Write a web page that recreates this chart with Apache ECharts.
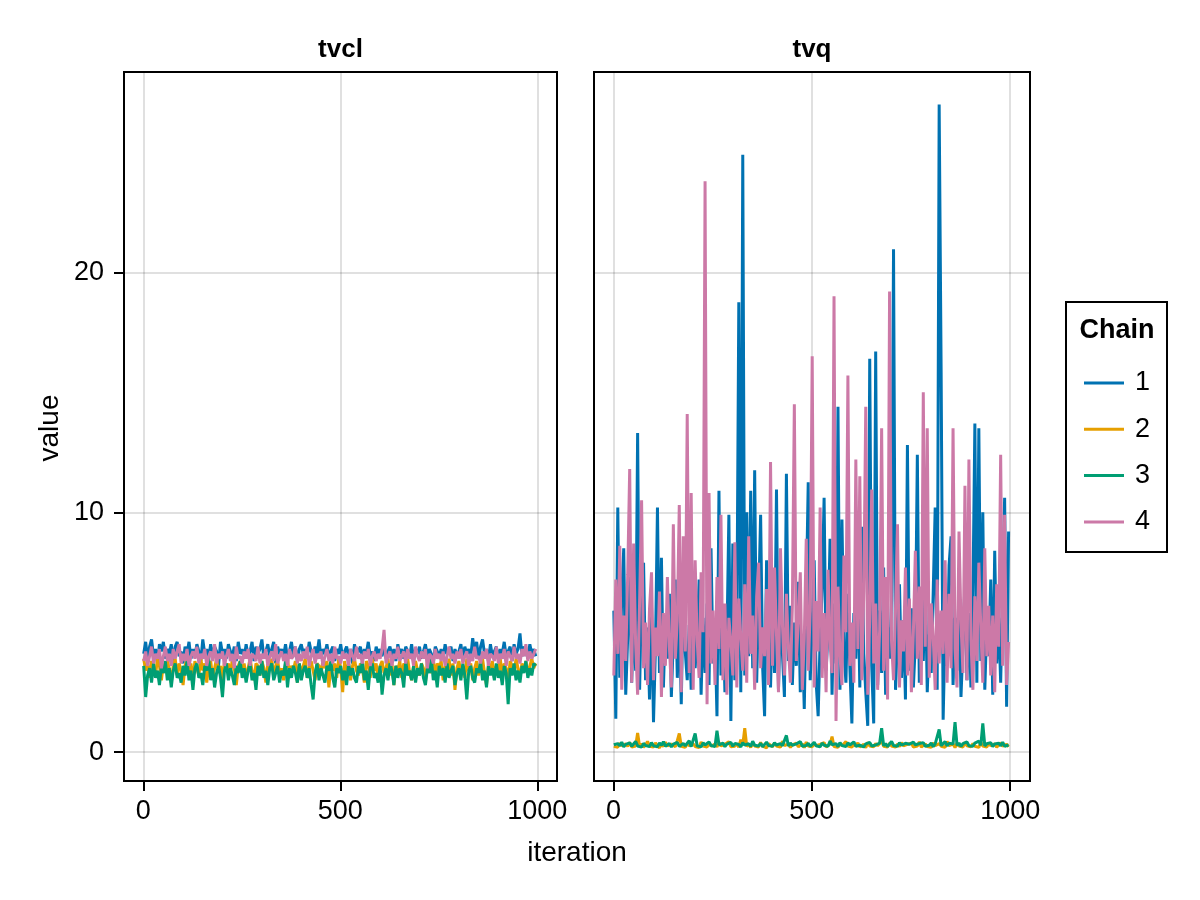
<!DOCTYPE html>
<html>
<head>
<meta charset="utf-8">
<title>trace plot</title>
<script src="https://cdn.jsdelivr.net/npm/echarts@6/dist/echarts.min.js"></script>
<style>
  html, body { margin: 0; padding: 0; background: #fff; }
  #main { width: 1200px; height: 900px; }
</style>
</head>
<body>
<div id="main"></div>
<script>
// thinned trace: one value read every 5 iterations (1, 6, 11, ... 996)
const thinStep = 5;
const iterations = [];
for (let i = 0; i < 200; i++) iterations.push(1 + i * thinStep);

const chainNames = ['1', '2', '3', '4'];
const chainColors = ['#0072b2', '#e69f00', '#009e73', '#cc79a7'];
const panelTitles = ['tvcl', 'tvq'];
const xTicks = [0, 500, 1000];
const yTicks = [0, 10, 20];

// tvcl
const tvclChain1 = [
  4.1, 4.6, 3.9, 4.4, 4.7, 4.0, 4.3, 3.7, 4.5, 4.2, 4.6, 3.9, 4.3, 4.1, 4.5, 3.8, 4.4, 4.6, 4.0, 4.2,
  3.7, 4.4, 4.1, 4.6, 3.9, 4.3, 4.0, 4.5, 4.2, 3.8, 4.7, 4.1, 4.3, 3.9, 4.5, 4.0, 4.4, 4.2, 3.6, 4.6,
  4.1, 4.3, 3.9, 4.5, 4.2, 4.0, 4.4, 3.8, 4.6, 4.1, 4.3, 3.9, 4.5, 4.0, 4.2, 4.6, 3.8, 4.4, 4.1, 4.3,
  4.7, 3.9, 4.2, 4.5, 4.0, 4.3, 4.6, 3.7, 4.4, 4.1, 4.3, 4.0, 4.5, 3.9, 4.2, 4.6, 4.0, 4.4, 3.8, 4.3,
  4.5, 4.1, 4.3, 3.9, 4.6, 4.2, 4.0, 4.4, 4.1, 4.7, 3.9, 4.3, 4.1, 4.5, 4.0, 4.2, 4.4, 3.8, 4.3, 4.1,
  4.5, 3.9, 4.2, 4.4, 4.0, 4.3, 3.7, 4.5, 4.1, 4.2, 4.4, 3.9, 4.3, 4.1, 4.6, 4.0, 4.2, 3.8, 4.4, 4.1,
  4.3, 4.0, 4.5, 3.9, 4.2, 4.4, 4.0, 4.3, 3.8, 4.5, 4.1, 4.3, 3.9, 4.4, 4.2, 4.0, 4.5, 3.8, 4.3, 4.1,
  4.4, 3.9, 4.2, 4.5, 4.0, 4.3, 4.1, 3.7, 4.4, 4.2, 4.0, 4.3, 3.9, 4.5, 4.1, 4.2, 4.4, 3.8, 4.3, 4.0,
  4.2, 4.5, 3.9, 4.4, 4.1, 4.3, 4.0, 4.75, 4.2, 4.6, 3.9, 4.4, 4.7, 4.1, 4.3, 3.8, 4.5, 4.0, 4.2, 4.4,
  3.9, 4.3, 4.1, 4.6, 4.0, 4.2, 4.4, 3.8, 4.5, 4.1, 4.3, 4.95, 4.0, 4.4, 4.2, 3.9, 4.5, 4.1, 4.3, 4.0
];
const tvclChain2 = [
  3.9, 3.4, 3.7, 3.1, 3.8, 3.5, 3.2, 3.9, 3.6, 3.0, 3.7, 3.3, 3.8, 3.5, 2.9, 3.6, 3.9, 3.2, 3.7, 3.4,
  2.8, 3.6, 3.9, 3.3, 3.7, 3.0, 3.8, 3.5, 3.2, 3.9, 3.4, 3.7, 2.9, 3.6, 3.8, 3.1, 3.5, 3.9, 3.3, 3.6,
  3.0, 3.8, 3.4, 3.7, 3.2, 3.9, 3.5, 2.8, 3.6, 3.8, 3.3, 3.7, 3.1, 3.5, 3.9, 3.4, 3.0, 3.7, 3.6, 3.2,
  3.8, 3.5, 2.9, 3.7, 3.4, 3.9, 3.1, 3.6, 3.8, 3.3, 3.5, 3.0, 3.7, 3.9, 3.2, 3.6, 3.4, 3.8, 2.9, 3.7,
  3.3, 3.6, 3.9, 3.1, 3.5, 3.8, 3.4, 3.0, 3.7, 3.6, 3.2, 3.9, 3.5, 3.8, 2.7, 3.6, 3.4, 3.7, 3.1, 3.9,
  3.5, 2.5, 3.8, 3.3, 3.7, 3.0, 3.6, 3.9, 3.4, 3.2, 3.7, 3.5, 2.9, 3.8, 3.6, 3.1, 3.9, 3.4, 3.7, 3.0,
  3.6, 3.8, 3.3, 3.5, 3.9, 3.2, 3.7, 2.8, 3.6, 3.4, 3.8, 3.1, 3.7, 3.5, 3.9, 3.3, 3.0, 3.6, 3.8, 3.4,
  3.2, 3.7, 3.5, 2.9, 3.8, 3.6, 3.3, 3.9, 3.1, 3.7, 3.5, 3.8, 3.0, 3.6, 3.4, 3.9, 3.2, 3.7, 2.6, 3.5,
  3.8, 3.3, 3.6, 3.1, 3.9, 3.4, 3.7, 3.0, 3.5, 3.8, 3.2, 3.6, 3.9, 3.3, 2.8, 3.7, 3.5, 3.8, 3.1, 3.6,
  3.4, 3.9, 3.2, 3.7, 3.5, 3.0, 3.8, 3.6, 3.3, 3.9, 3.5, 3.1, 3.7, 3.4, 3.8, 3.2, 3.6, 3.9, 3.5, 3.7
];
const tvclChain3 = [
  3.6, 2.3, 3.2, 3.5, 2.9, 3.7, 3.1, 3.4, 2.8, 3.6, 3.3, 3.8, 3.0, 3.5, 2.7, 3.4, 3.7, 3.1, 3.3, 2.9,
  3.6, 3.2, 3.8, 3.0, 3.4, 2.6, 3.5, 3.7, 3.1, 3.3, 2.8, 3.6, 3.4, 3.9, 3.0, 3.5, 2.7, 3.3, 3.6, 3.1,
  2.3, 3.4, 3.7, 3.0, 3.5, 3.2, 2.8, 3.6, 3.3, 3.8, 3.1, 3.5, 2.9, 3.4, 3.7, 3.0, 3.3, 2.6, 3.6, 3.2,
  3.8, 3.1, 3.4, 2.8, 3.5, 3.7, 3.0, 3.3, 3.6, 2.9, 3.4, 3.2, 3.8, 2.7, 3.5, 3.1, 3.6, 3.3, 2.9, 3.7,
  3.0, 3.4, 3.6, 3.1, 3.5, 2.8, 2.2, 3.3, 3.7, 3.0, 3.5, 3.2, 2.9, 3.6, 3.4, 3.8, 3.1, 2.7, 3.5, 3.3,
  3.6, 3.0, 3.4, 2.8, 3.7, 3.2, 3.5, 3.1, 2.9, 3.6, 3.3, 3.8, 3.0, 3.4, 2.6, 3.5, 3.7, 3.1, 3.3, 2.9,
  3.6, 2.4, 3.2, 3.5, 3.0, 3.7, 3.4, 2.8, 3.6, 3.1, 3.5, 3.3, 2.7, 3.8, 3.2, 3.4, 3.0, 3.6, 2.9, 3.5,
  3.2, 3.7, 3.1, 2.8, 3.5, 3.3, 3.9, 3.0, 3.4, 2.7, 3.6, 3.2, 3.5, 2.9, 3.7, 3.1, 3.4, 3.6, 2.8, 3.3,
  3.5, 3.0, 3.7, 3.2, 2.2, 3.4, 3.6, 3.1, 2.9, 3.5, 3.3, 3.8, 3.0, 3.4, 2.7, 3.6, 3.2, 3.5, 3.0, 3.7,
  3.1, 3.4, 2.8, 3.6, 3.3, 2.0, 3.5, 3.2, 3.7, 3.0, 3.4, 2.9, 3.6, 3.3, 3.8, 3.1, 3.5, 3.2, 3.7, 3.6
];
const tvclChain4 = [
  3.8, 4.2, 3.6, 4.0, 4.4, 3.7, 4.1, 3.9, 4.3, 3.5, 4.0, 4.4, 3.8, 4.1, 3.6, 4.3, 3.9, 4.2, 4.5, 3.7,
  4.1, 3.8, 4.3, 3.6, 4.0, 4.2, 3.9, 4.4, 3.7, 4.1, 3.9, 4.3, 3.6, 4.0, 4.2, 3.8, 4.5, 3.7, 4.1, 3.9,
  4.2, 3.6, 4.0, 4.3, 3.8, 4.1, 3.5, 4.4, 3.9, 4.0, 3.7, 4.2, 3.9, 4.3, 3.6, 4.1, 4.0, 3.8, 4.4, 3.7,
  4.1, 3.9, 4.3, 3.6, 4.0, 4.2, 3.8, 4.5, 3.7, 4.0, 4.2, 3.8, 4.1, 3.6, 4.3, 3.9, 4.0, 4.4, 3.7, 4.1,
  3.8, 4.2, 3.9, 4.4, 3.6, 4.0, 4.3, 3.7, 4.1, 3.9, 4.2, 3.6, 4.0, 4.3, 3.8, 4.1, 3.7, 4.4, 3.9, 4.0,
  3.7, 4.2, 3.9, 4.1, 3.6, 4.3, 4.0, 3.8, 4.4, 3.9, 4.1, 3.7, 4.2, 3.9, 4.3, 3.6, 4.0, 4.2, 3.8, 4.1,
  3.9, 4.3, 5.1, 3.7, 4.0, 4.2, 3.6, 4.1, 3.9, 4.4, 3.8, 4.0, 4.2, 3.7, 4.3, 3.9, 4.1, 3.6, 4.4, 4.0,
  3.8, 4.2, 3.9, 4.3, 3.5, 4.1, 4.0, 3.7, 4.3, 3.9, 4.1, 3.8, 4.2, 3.6, 4.0, 4.4, 3.9, 4.1, 3.7, 4.2,
  3.9, 4.3, 3.7, 4.0, 4.2, 3.6, 4.1, 3.8, 4.4, 3.9, 4.0, 3.7, 4.2, 3.9, 4.3, 3.6, 4.1, 4.0, 3.8, 4.4,
  3.7, 4.1, 3.9, 4.3, 3.6, 4.2, 4.0, 3.8, 4.4, 3.9, 4.1, 3.7, 4.3, 4.0, 4.5, 3.8, 4.2, 3.9, 4.1, 4.3
];

// tvq
const tvqChain1 = [
  5.9, 1.4, 10.2, 3.1, 6.5, 8.5, 2.4, 4.8, 7.3, 2.9, 5.6, 3.4, 13.3, 2.6, 6.8, 7.9, 3.0, 5.2, 2.2, 6.1,
  1.25, 4.4, 10.2, 3.3, 8.1, 2.7, 5.5, 3.9, 6.6, 2.3, 4.7, 7.2, 3.1, 5.8, 2.0, 6.9, 4.2, 3.0, 5.3, 2.6,
  7.0, 3.5, 4.9, 7.2, 2.4, 5.6, 3.3, 6.2, 2.8, 8.5, 3.7, 5.1, 1.5, 10.9, 3.2, 6.0, 2.5, 4.6, 9.9, 1.3,
  8.7, 3.0, 5.0, 18.75, 2.5, 24.9, 3.2, 10.0, 4.0, 10.9, 3.5, 11.75, 2.9, 6.3, 9.9, 3.6, 1.5, 8.0, 4.4, 2.7,
  6.4, 3.3, 10.95, 2.6, 5.7, 4.1, 2.3, 11.6, 3.8, 6.1, 2.8, 5.4, 3.6, 7.1, 2.5, 4.9, 1.8, 6.5, 11.25, 3.0,
  5.3, 8.0, 2.9, 1.5, 4.7, 6.8, 10.6, 3.4, 5.0, 8.9, 2.4, 6.2, 3.7, 14.4, 2.6, 9.7, 4.3, 2.9, 6.6, 3.5,
  1.2, 5.8, 3.9, 7.5, 2.7, 9.4, 4.1, 2.5, 1.1, 16.4, 3.6, 1.2, 16.7, 2.8, 5.9, 3.3, 7.7, 2.4, 5.2, 3.9,
  6.3, 20.96, 2.6, 4.8, 7.0, 3.1, 5.5, 2.2, 12.8, 3.4, 6.0, 2.7, 4.6, 12.4, 2.9, 5.7, 3.8, 7.4, 2.5, 4.9,
  3.3, 6.7, 10.2, 2.6, 27.0, 15.8, 1.35, 5.1, 3.6, 7.8, 9.0, 2.8, 5.6, 3.4, 6.9, 2.3, 4.5, 7.1, 3.0, 5.8,
  2.7, 6.4, 13.7, 2.9, 13.5, 3.8, 10.0, 2.6, 5.3, 4.0, 7.2, 2.4, 8.4, 3.7, 5.6, 2.9, 6.8, 10.6, 1.9, 9.2
];
const tvqChain2 = [
  0.25, 0.32, 0.21, 0.38, 0.27, 0.19, 0.35, 0.24, 0.41, 0.22, 0.30, 0.26, 0.80, 0.23, 0.36, 0.20, 0.31, 0.45, 0.25, 0.28,
  0.22, 0.39, 0.27, 0.18, 0.33, 0.24, 0.42, 0.26, 0.21, 0.34, 0.29, 0.23, 0.48, 0.78, 0.25, 0.31, 0.20, 0.37, 0.27, 0.22,
  0.35, 0.24, 0.30, 0.19, 0.43, 0.26, 0.32, 0.21, 0.38, 0.25, 0.28, 0.34, 0.22, 0.40, 0.26, 0.19, 0.33, 0.27, 0.44, 0.23,
  0.30, 0.25, 0.36, 0.21, 0.52, 0.29, 1.00, 0.24, 0.33, 0.20, 0.37, 0.26, 0.31, 0.22, 0.41, 0.25, 0.29, 0.18, 0.35, 0.27,
  0.23, 0.39, 0.26, 0.32, 0.21, 0.46, 0.28, 0.24, 0.34, 0.20, 0.31, 0.25, 0.38, 0.22, 0.29, 0.35, 0.19, 0.42, 0.26, 0.30,
  0.23, 0.36, 0.27, 0.21, 0.33, 0.25, 0.40, 0.22, 0.29, 0.34, 0.65, 0.24, 0.31, 0.20, 0.37, 0.27, 0.23, 0.44, 0.26, 0.30,
  0.21, 0.35, 0.25, 0.39, 0.22, 0.28, 0.33, 0.19, 0.41, 0.26, 0.30, 0.23, 0.36, 0.27, 0.20, 0.47, 0.25, 0.32, 0.22, 0.38,
  0.26, 0.29, 0.21, 0.34, 0.24, 0.40, 0.27, 0.19, 0.33, 0.25, 0.37, 0.22, 0.30, 0.26, 0.43, 0.21, 0.28, 0.35, 0.24, 0.31,
  0.20, 0.39, 0.27, 0.23, 0.36, 0.25, 0.32, 0.21, 0.45, 0.28, 0.24, 0.34, 0.19, 0.38, 0.26, 0.30, 0.22, 0.41, 0.27, 0.33,
  0.23, 0.36, 0.25, 0.29, 0.20, 0.42, 0.26, 0.31, 0.22, 0.37, 0.27, 0.24, 0.35, 0.21, 0.30, 0.39, 0.25, 0.28, 0.33, 0.23
];
const tvqChain3 = [
  0.31, 0.24, 0.36, 0.27, 0.42, 0.22, 0.33, 0.28, 0.39, 0.25, 0.30, 0.45, 0.26, 0.34, 0.21, 0.37, 0.28, 0.32, 0.24, 0.40,
  0.27, 0.33, 0.23, 0.38, 0.29, 0.44, 0.25, 0.31, 0.36, 0.22, 0.34, 0.28, 0.41, 0.24, 0.30, 0.37, 0.26, 0.32, 0.48, 0.23,
  0.29, 0.78, 0.27, 0.35, 0.22, 0.39, 0.30, 0.25, 0.43, 0.28, 0.33, 0.24, 0.90, 0.31, 0.26, 0.38, 0.23, 0.34, 0.29, 0.41,
  0.25, 0.36, 0.28, 0.32, 0.22, 0.40, 0.30, 0.27, 0.35, 0.24, 0.46, 0.29, 0.33, 0.26, 0.37, 0.23, 0.31, 0.42, 0.28, 0.34,
  0.25, 0.39, 0.30, 0.24, 0.36, 0.27, 0.33, 0.70, 0.26, 0.38, 0.29, 0.23, 0.35, 0.31, 0.44, 0.25, 0.32, 0.28, 0.37, 0.24,
  0.30, 0.41, 0.27, 0.34, 0.22, 0.38, 0.29, 0.33, 0.25, 0.47, 0.31, 0.26, 0.36, 0.23, 0.40, 0.28, 0.34, 0.24, 0.39, 0.30,
  0.27, 0.43, 0.25, 0.32, 0.29, 0.37, 0.22, 0.35, 0.28, 0.41, 0.26, 0.33, 0.30, 0.24, 0.38, 1.00, 0.27, 0.36, 0.23, 0.31,
  0.45, 0.28, 0.34, 0.25, 0.39, 0.30, 0.22, 0.37, 0.29, 0.33, 0.26, 0.42, 0.31, 0.24, 0.36, 0.28, 0.40, 0.25, 0.33, 0.29,
  0.38, 0.23, 0.35, 0.30, 0.95, 0.27, 0.32, 0.44, 0.26, 0.37, 0.29, 0.34, 1.25, 0.28, 0.39, 0.24, 0.36, 0.31, 0.43, 0.27,
  0.33, 0.25, 0.38, 0.30, 0.46, 0.28, 1.20, 0.26, 0.35, 0.31, 0.40, 0.24, 0.34, 0.29, 0.37, 0.27, 0.42, 0.25, 0.32, 0.30
];
const tvqChain4 = [
  3.2, 7.2, 4.1, 8.6, 2.6, 5.7, 3.8, 7.4, 11.8, 2.9, 8.7, 4.5, 2.4, 6.3, 10.5, 3.5, 5.4, 2.8, 6.0, 7.5,
  3.0, 5.2, 4.0, 6.7, 2.3, 5.8, 3.6, 7.3, 4.4, 2.7, 9.5, 3.9, 5.5, 10.3, 2.5, 9.0, 4.2, 14.1, 3.3, 10.8,
  2.6, 8.0, 4.7, 3.1, 7.5, 5.0, 23.8, 2.0, 10.8, 3.7, 5.9, 2.8, 7.3, 4.3, 9.9, 3.0, 6.2, 2.4, 5.6, 4.6,
  3.2, 8.75, 2.7, 6.4, 4.8, 3.4, 7.0, 2.9, 9.0, 4.1, 5.7, 2.6, 6.5, 7.9, 3.5, 5.2, 4.0, 6.8, 2.8, 12.1,
  3.6, 7.7, 4.9, 2.5, 8.5, 5.3, 3.2, 6.6, 4.4, 2.9, 6.1, 14.5, 3.8, 5.5, 7.5, 2.6, 4.7, 8.9, 3.4, 5.9,
  16.5, 2.7, 6.3, 4.2, 10.2, 3.1, 5.8, 2.5, 7.6, 4.5, 3.3, 19.0, 1.3, 6.9, 4.0, 2.8, 8.2, 5.0, 15.7, 3.6,
  5.4, 2.9, 12.2, 4.3, 11.5, 3.0, 6.7, 14.4, 2.4, 5.6, 10.95, 3.7, 6.2, 2.6, 5.1, 13.5, 3.4, 7.3, 2.2, 19.2,
  4.6, 3.0, 6.0, 9.5, 2.7, 5.5, 4.2, 7.7, 3.2, 6.4, 2.5, 5.0, 8.4, 3.9, 6.9, 2.8, 15.0, 4.4, 13.5, 3.1,
  6.2, 4.8, 2.6, 7.2, 3.7, 5.9, 4.1, 8.0, 2.9, 6.6, 3.5, 13.5, 4.3, 2.7, 9.2, 5.4, 3.3, 11.1, 3.0, 12.2,
  4.7, 2.6, 6.5, 3.8, 7.9, 5.2, 2.9, 8.5, 4.0, 6.1, 3.2, 5.7, 2.5, 7.0, 4.4, 12.4, 3.6, 9.9, 2.8, 4.6
];

const panelChains = [
  [tvclChain1, tvclChain2, tvclChain3, tvclChain4],
  [tvqChain1, tvqChain2, tvqChain3, tvqChain4]
];

const fontFamily = '"Liberation Sans", "Helvetica", "Arial", sans-serif';
const gridRects = [
  { left: 124, top: 72, width: 433, height: 709 },
  { left: 594, top: 72, width: 436, height: 709 }
];

const chart = echarts.init(document.getElementById('main'));

const grids = gridRects.map(r => ({
  left: r.left, top: r.top, width: r.width, height: r.height,
  show: true, borderColor: '#000', borderWidth: 2, backgroundColor: 'transparent',
  containLabel: false
}));

const xAxes = gridRects.map((r, i) => ({
  type: 'value', gridIndex: i, min: -48.95, max: 1049.95,
  axisLine: { show: false, onZero: false },
  axisTick: { show: true, inside: false, length: 10, customValues: xTicks, lineStyle: { color: '#000', width: 2 } },
  axisLabel: {
    show: true, customValues: xTicks, margin: 17, fontSize: 27, color: '#000', fontFamily: fontFamily,
    formatter: v => String(v)
  },
  splitLine: { show: true, lineStyle: { color: 'rgba(0,0,0,0.12)', width: 2 } }
}));

const yAxes = gridRects.map((r, i) => ({
  type: 'value', gridIndex: i, min: -1.2, max: 28.35,
  axisLine: { show: false, onZero: false },
  axisTick: { show: i === 0, inside: false, length: 10, customValues: yTicks, lineStyle: { color: '#000', width: 2 } },
  axisLabel: {
    show: i === 0, customValues: yTicks, margin: 20, fontSize: 27, color: '#000', fontFamily: fontFamily,
    formatter: v => String(v)
  },
  splitLine: { show: true, lineStyle: { color: 'rgba(0,0,0,0.12)', width: 2 } }
}));

const series = [];
panelChains.forEach((chains, p) => {
  chains.forEach((values, c) => {
    series.push({
      name: chainNames[c],
      type: 'line',
      xAxisIndex: p,
      yAxisIndex: p,
      data: values.map((v, k) => [iterations[k], v]),
      showSymbol: false,
      symbol: 'none',
      lineStyle: { color: chainColors[c], width: 3 },
      itemStyle: { color: chainColors[c] },
      clip: true
    });
  });
});

const graphics = [];
panelTitles.forEach((t, i) => {
  graphics.push({
    type: 'text',
    x: gridRects[i].left + gridRects[i].width / 2,
    y: 50,
    style: { text: t, font: 'bold 26px ' + fontFamily, fill: '#000', align: 'center', verticalAlign: 'middle' }
  });
});
graphics.push({
  type: 'text', x: 577, y: 853,
  style: { text: 'iteration', font: '28px ' + fontFamily, fill: '#000', align: 'center', verticalAlign: 'middle' }
});
graphics.push({
  type: 'text', x: 50, y: 428, rotation: Math.PI / 2,
  style: { text: 'value', font: '28px ' + fontFamily, fill: '#000', align: 'center', verticalAlign: 'middle' }
});
// legend frame + title
graphics.push({
  type: 'rect', shape: { x: 1066, y: 302, width: 101, height: 250 },
  style: { fill: '#fff', stroke: '#000', lineWidth: 2 }, z: 0
});
graphics.push({
  type: 'text', x: 1117, y: 331,
  style: { text: 'Chain', font: 'bold 27px ' + fontFamily, fill: '#000', align: 'center', verticalAlign: 'middle' }
});

chart.setOption({
  animation: false,
  backgroundColor: '#fff',
  grid: grids,
  xAxis: xAxes,
  yAxis: yAxes,
  legend: {
    data: chainNames,
    orient: 'vertical',
    left: 1084,
    top: 369,
    padding: 0,
    itemWidth: 40,
    itemHeight: 3,
    itemGap: 18.3,
    icon: 'rect',
    textStyle: { fontSize: 27, lineHeight: 28, color: '#000', fontFamily: fontFamily, padding: [0, 0, 0, 6] },
    z: 10
  },
  graphic: { elements: graphics },
  series: series
});
</script>
</body>
</html>
